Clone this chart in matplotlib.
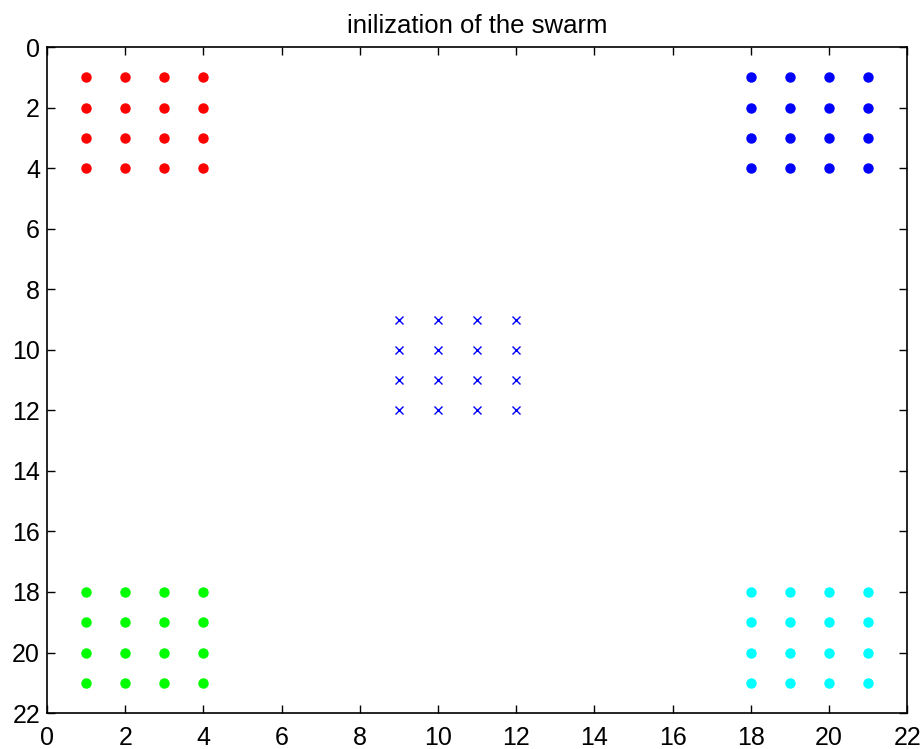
import numpy as np
import matplotlib
matplotlib.use("Agg")
import matplotlib.pyplot as plt

plt.rcParams['font.family'] = ['Liberation Sans', 'DejaVu Sans']

# grid coordinates of each group of particles
low = [1, 2, 3, 4]
high = [18, 19, 20, 21]
mid = [9, 10, 11, 12]

groups = [
    # (x values, y values, colour, marker)
    (low, low, 'red', 'o'),
    (high, low, 'blue', 'o'),
    (low, high, '#00ff00', 'o'),
    (high, high, 'cyan', 'o'),
    (mid, mid, 'blue', 'x'),
]

fig = plt.figure(figsize=(9.22, 7.49), dpi=100)
ax = fig.add_axes([0.051, 0.048, 0.933, 0.889])

for xs, ys, col, mk in groups:
    gx, gy = np.meshgrid(xs, ys)
    if mk == 'o':
        ax.plot(gx.ravel(), gy.ravel(), linestyle='none', marker='o',
                markersize=6.5, color=col)
    else:
        ax.plot(gx.ravel(), gy.ravel(), linestyle='none', marker='x',
                markersize=6, markeredgewidth=1.0, color=col)

ax.set_xlim(0, 22)
ax.set_ylim(22, 0)
ax.set_xticks(np.arange(0, 23, 2))
ax.set_yticks(np.arange(0, 23, 2))
ax.tick_params(direction='in', length=6, width=1, labelsize=18,
               top=True, right=True)
ax.tick_params(axis='x', pad=9)
ax.tick_params(axis='y', pad=5)
for sp in ax.spines.values():
    sp.set_linewidth(1.2)
ax.set_title('inilization of the swarm', fontsize=18.5, pad=10)

fig.savefig('out.png', dpi=100)
